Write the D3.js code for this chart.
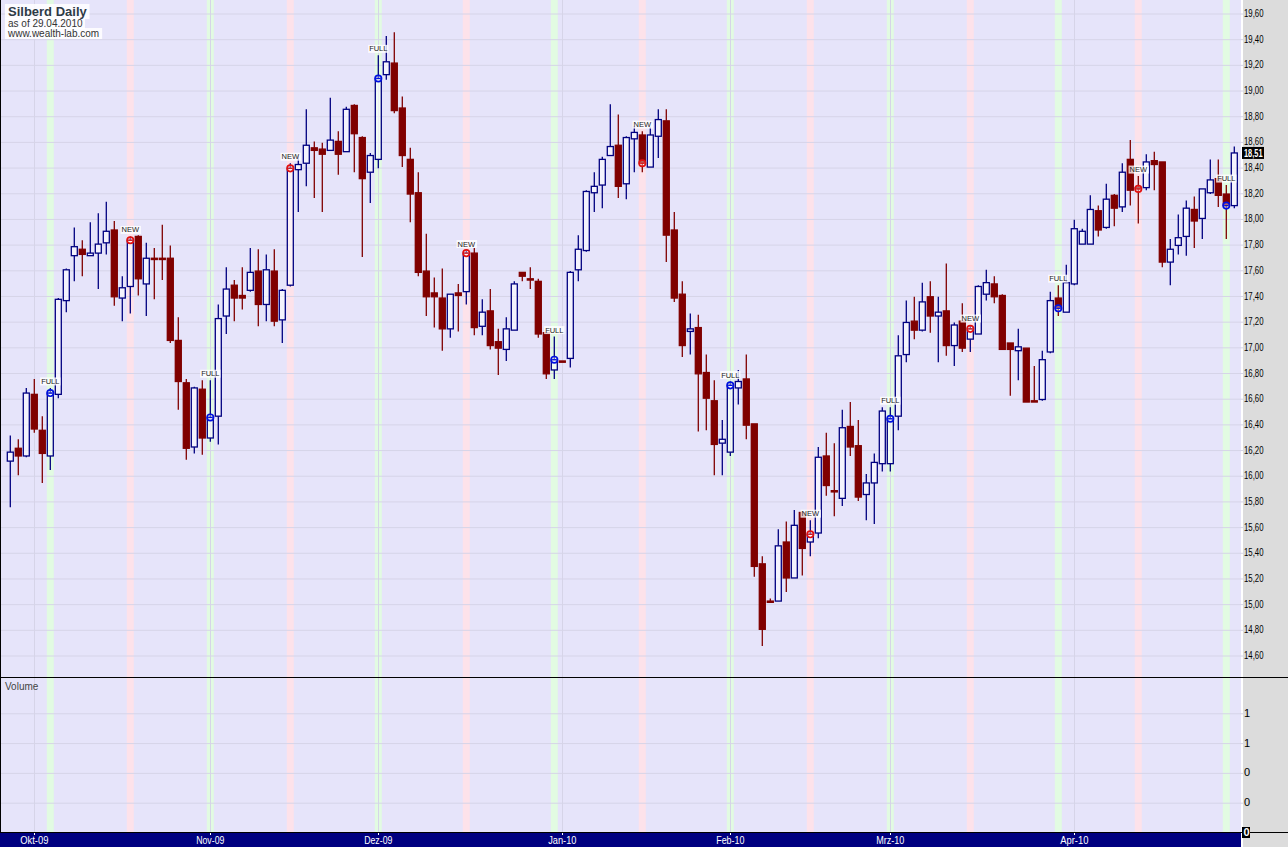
<!DOCTYPE html>
<html>
<head>
<meta charset="utf-8">
<script src="https://cdn.jsdelivr.net/npm/d3@7"></script>
<style>
  html, body { margin: 0; padding: 0; background: #fff; }
  svg { display: block; }
  text { font-family: "Liberation Sans", Arial, sans-serif; }
</style>
</head>
<body>
<svg id="chart" width="1288" height="847"></svg>
<script>
// daily bars, oldest first (one per weekday, 28.09.2009 .. 29.04.2010)
const opens = [
  16.11, 16.21, 16.15, 16.63, 16.35, 16.15, 16.63, 17.36, 17.71, 17.76,
  17.71, 17.73, 17.81, 17.91, 17.38, 17.47, 17.86, 17.49, 17.69, 17.69,
  17.69, 17.05, 16.72, 16.22, 16.67, 16.29, 16.46, 17.24, 17.48, 17.40,
  17.44, 17.59, 17.33, 17.59, 17.21, 17.48, 18.38, 18.43, 18.55, 18.54,
  18.53, 18.60, 18.52, 18.88, 18.63, 18.36, 18.46, 19.12, 19.21, 18.86,
  18.46, 18.20, 17.59, 17.42, 17.38, 17.14, 17.42, 17.43, 17.73, 17.16,
  17.28, 17.04, 16.98, 17.13, 17.58, 17.53, 17.51, 17.11, 16.82, 16.89,
  16.91, 17.60, 17.75, 18.20, 18.26, 18.49, 18.57, 18.27, 18.62, 18.65,
  18.40, 18.64, 18.76, 17.91, 17.41, 17.12, 17.15, 16.80, 16.58, 16.25,
  16.18, 16.68, 16.75, 16.40, 15.31, 15.02, 15.02, 15.48, 15.20, 15.71,
  15.48, 15.55, 16.15, 15.88, 15.82, 16.38, 16.23, 15.85, 15.94, 16.09,
  16.09, 16.46, 16.94, 17.20, 17.13, 17.39, 17.24, 17.28, 17.01, 17.20,
  17.06, 17.10, 17.41, 17.49, 17.40, 17.03, 16.97, 16.99, 16.58, 16.59,
  16.96, 17.38, 17.27, 17.49, 17.80, 17.80, 18.06, 17.93, 18.18, 18.09,
  18.46, 18.24, 18.24, 18.45, 18.44, 17.66, 17.79, 17.86, 18.07, 18.00,
  18.20, 18.31, 18.19, 18.10
];
const highs = [
  16.31, 16.28, 16.68, 16.75, 16.46, 16.68, 17.38, 17.61, 17.93, 17.83,
  17.97, 18.04, 18.13, 17.98, 17.55, 17.86, 17.87, 17.81, 17.77, 17.95,
  17.79, 17.23, 16.75, 16.69, 16.74, 16.74, 17.33, 17.62, 17.52, 17.62,
  17.77, 17.76, 17.72, 17.76, 17.45, 18.43, 18.49, 18.85, 18.60, 18.59,
  18.94, 18.68, 18.87, 18.89, 18.64, 18.51, 19.27, 19.42, 19.45, 18.95,
  18.55, 18.36, 17.88, 17.54, 17.61, 17.41, 17.49, 17.75, 17.77, 17.37,
  17.45, 17.14, 17.23, 17.51, 17.58, 17.62, 17.53, 17.11, 17.08, 16.89,
  17.59, 17.87, 18.22, 18.36, 18.48, 18.89, 18.81, 18.64, 18.72, 18.68,
  18.71, 18.85, 18.85, 18.05, 17.51, 17.26, 17.25, 16.94, 16.74, 16.43,
  16.73, 16.82, 16.94, 16.40, 15.37, 15.04, 15.58, 15.64, 15.73, 15.72,
  15.65, 16.22, 16.33, 16.25, 16.51, 16.57, 16.43, 16.01, 16.17, 16.53,
  16.53, 17.09, 17.36, 17.39, 17.50, 17.51, 17.39, 17.65, 17.19, 17.34,
  17.17, 17.48, 17.60, 17.55, 17.41, 17.03, 17.14, 16.99, 16.85, 16.97,
  17.43, 17.48, 17.64, 17.99, 17.92, 18.18, 18.10, 18.27, 18.19, 18.43,
  18.61, 18.33, 18.50, 18.52, 18.44, 17.84, 18.03, 18.14, 18.17, 18.23,
  18.46, 18.46, 18.26, 18.56
];
const lows = [
  15.75, 16.00, 16.14, 16.33, 15.94, 16.04, 16.60, 17.27, 17.51, 17.55,
  17.71, 17.45, 17.72, 17.32, 17.20, 17.26, 17.40, 17.24, 17.37, 17.52,
  17.03, 16.51, 16.12, 16.17, 16.16, 16.26, 16.24, 17.10, 17.20, 17.29,
  17.43, 17.16, 17.20, 17.16, 17.03, 17.47, 18.05, 18.25, 18.16, 18.05,
  18.53, 18.34, 18.52, 18.36, 17.70, 18.12, 18.39, 19.08, 18.82, 18.40,
  17.97, 17.55, 17.24, 17.15, 16.97, 17.07, 17.12, 17.33, 17.09, 17.09,
  16.98, 16.78, 16.89, 17.13, 17.51, 17.45, 17.07, 16.75, 16.75, 16.88,
  16.84, 17.51, 17.74, 18.05, 18.08, 18.49, 18.16, 18.15, 18.36, 18.36,
  18.40, 18.47, 17.66, 17.35, 16.92, 16.94, 16.34, 16.35, 16.00, 16.00,
  16.15, 16.55, 16.28, 15.21, 14.67, 15.01, 15.02, 15.09, 15.20, 15.22,
  15.37, 15.51, 15.84, 15.68, 15.76, 16.15, 15.80, 15.65, 15.62, 16.03,
  16.03, 16.35, 16.88, 17.06, 17.12, 17.11, 16.88, 16.93, 16.85, 16.96,
  16.96, 17.10, 17.36, 17.34, 16.98, 16.62, 16.74, 16.57, 16.57, 16.58,
  16.95, 17.24, 17.27, 17.48, 17.80, 17.80, 17.86, 17.92, 17.94, 18.05,
  18.10, 17.96, 18.22, 18.22, 17.62, 17.48, 17.72, 17.71, 17.77, 17.84,
  18.19, 18.09, 17.84, 18.08
];
const closes = [
  16.18, 16.15, 16.64, 16.36, 16.17, 16.64, 17.37, 17.60, 17.78, 17.72,
  17.73, 17.80, 17.90, 17.39, 17.46, 17.83, 17.53, 17.69, 17.68, 17.68,
  17.05, 16.73, 16.21, 16.68, 16.29, 16.45, 17.22, 17.45, 17.38, 17.38,
  17.58, 17.33, 17.60, 17.20, 17.44, 18.39, 18.42, 18.57, 18.53, 18.50,
  18.61, 18.50, 18.85, 18.66, 18.31, 18.49, 19.09, 19.22, 18.84, 18.49,
  18.19, 17.58, 17.39, 17.39, 17.14, 17.41, 17.40, 17.73, 17.15, 17.27,
  17.01, 16.99, 17.14, 17.49, 17.55, 17.52, 17.10, 16.79, 16.90, 16.88,
  17.58, 17.76, 18.21, 18.25, 18.46, 18.56, 18.25, 18.63, 18.67, 18.43,
  18.65, 18.77, 17.87, 17.38, 17.01, 17.14, 16.79, 16.60, 16.24, 16.28,
  16.70, 16.73, 16.39, 15.29, 14.80, 15.01, 15.45, 15.20, 15.61, 15.43,
  15.54, 16.14, 15.92, 15.87, 16.37, 16.22, 15.83, 15.94, 16.10, 16.50,
  16.44, 16.93, 17.19, 17.13, 17.35, 17.24, 17.27, 17.01, 17.17, 16.99,
  17.14, 17.47, 17.50, 17.39, 16.98, 16.98, 17.00, 16.57, 16.57, 16.90,
  17.36, 17.30, 17.50, 17.92, 17.90, 18.07, 17.91, 18.15, 18.08, 18.36,
  18.22, 18.23, 18.44, 18.42, 17.66, 17.76, 17.85, 18.08, 17.98, 18.23,
  18.30, 18.18, 18.10, 18.51
];

// bar index of full moon / new moon days
const fullMoonBars = [5, 25, 46, 68, 90, 110, 131, 152];
const newMoonBars = [15, 35, 57, 79, 100, 120, 141];

// first bar of each month and its label
const monthBars = [3, 25, 46, 69, 90, 110, 133];
const monthLabels = ["Okt-09", "Nov-09", "Dez-09", "Jan-10", "Feb-10", "Mrz-10", "Apr-10"];

const priceTicks = [
  14.6, 14.8, 15.0, 15.2, 15.4, 15.6, 15.8, 16.0, 16.2, 16.4, 16.6, 16.8, 17.0,
  17.2, 17.4, 17.6, 17.8, 18.0, 18.2, 18.4, 18.6, 18.8, 19.0, 19.2, 19.4, 19.6
];
const volumeTicks = [0.3, 0.6, 0.9, 1.2];
const volumeTickLabels = ["0", "0", "1", "1"];
const lastVolume = 0;

const titleLines = ["Silberd Daily", "as of 29.04.2010", "www.wealth-lab.com"];

const WIDTH = 1288;
const HEIGHT = 847;
const PLOT_RIGHT = 1241;
const AXIS_LEFT = 1243;
const PANE_SPLIT = 677.5;
const DATE_BAR_TOP = 832;

const BG = "#e6e4fa";
const GRID = "#d6d4e8";
const UP = "#000080";
const DOWN = "#800000";
const FULL_BAND = "#e2fbe2";
const NEW_BAND = "#fde2ea";

const svg = d3.select("#chart");

const x = d3.scaleLinear([0, opens.length - 1], [10.3, 1234.3]);
const y = d3.scaleLinear([14.6, 19.6], [655, 13]);
const yVol = d3.scaleLinear([0, 1.55], [DATE_BAR_TOP, 678]);

const bars = opens.map((open, i) => ({
  i,
  open,
  high: highs[i],
  low: lows[i],
  close: closes[i],
}));

const commaFormat = (d) => d3.format(".2f")(d).replace(".", ",");

// squeeze labels to the narrow look of the original
function squeeze(charWidth) {
  return (sel) => sel.each(function () {
    const s = this.textContent;
    if (s.length > 1) {
      d3.select(this)
        .attr("textLength", s.length * charWidth - (s.includes(",") ? 1.5 : 0))
        .attr("lengthAdjust", "spacingAndGlyphs");
    }
  });
}

function drawBackground() {
  svg.append("rect").attr("width", WIDTH).attr("height", HEIGHT).attr("fill", "#fff");
  svg.append("rect")
    .attr("width", PLOT_RIGHT)
    .attr("height", DATE_BAR_TOP)
    .attr("fill", BG);

  const bands = svg.append("g");
  bands.selectAll(".full").data(fullMoonBars).join("rect")
    .attr("x", (i) => x(i) - 3.5)
    .attr("width", 7)
    .attr("height", DATE_BAR_TOP)
    .attr("fill", FULL_BAND);
  bands.selectAll(".new").data(newMoonBars).join("rect")
    .attr("x", (i) => x(i) - 3.5)
    .attr("width", 7)
    .attr("height", DATE_BAR_TOP)
    .attr("fill", NEW_BAND);

  svg.append("g").selectAll("line").data(monthBars).join("line")
    .attr("x1", (i) => Math.round(x(i)) + 0.5)
    .attr("x2", (i) => Math.round(x(i)) + 0.5)
    .attr("y1", 0)
    .attr("y2", DATE_BAR_TOP)
    .attr("stroke", GRID);

  // horizontal grid, drawn as long ticks
  const priceGrid = d3.axisRight(y).tickValues(priceTicks).tickSize(-AXIS_LEFT).tickFormat("");
  svg.append("g")
    .attr("transform", `translate(${AXIS_LEFT},0.5)`)
    .call(priceGrid)
    .call((g) => g.select(".domain").remove())
    .call((g) => g.selectAll("line").attr("stroke", GRID));

  const volumeGrid = d3.axisRight(yVol).tickValues(volumeTicks).tickSize(-AXIS_LEFT).tickFormat("");
  svg.append("g")
    .attr("transform", `translate(${AXIS_LEFT},0.5)`)
    .call(volumeGrid)
    .call((g) => g.select(".domain").remove())
    .call((g) => g.selectAll("line").attr("stroke", GRID));
}

function drawCandles() {
  const g = svg.append("g")
    .selectAll("g")
    .data(bars)
    .join("g")
    .attr("stroke", (d) => (d.close >= d.open ? UP : DOWN));

  g.append("line")
    .attr("x1", (d) => x(d.i))
    .attr("x2", (d) => x(d.i))
    .attr("y1", (d) => y(d.high))
    .attr("y2", (d) => y(Math.max(d.open, d.close)))
    .attr("stroke-width", 1.3);

  g.append("line")
    .attr("x1", (d) => x(d.i))
    .attr("x2", (d) => x(d.i))
    .attr("y1", (d) => y(Math.min(d.open, d.close)))
    .attr("y2", (d) => y(d.low))
    .attr("stroke-width", 1.3);

  g.append("rect")
    .attr("x", (d) => x(d.i) - 3)
    .attr("width", 6)
    .attr("y", (d) => y(Math.max(d.open, d.close)))
    .attr("height", (d) => Math.max(0.8, y(Math.min(d.open, d.close)) - y(Math.max(d.open, d.close))))
    .attr("fill", (d) => (d.close >= d.open ? "rgba(255,255,255,0.55)" : DOWN))
    .attr("stroke-width", 1.3);
}

function drawMoonMarkers(indices, color, label) {
  const g = svg.append("g")
    .selectAll("g")
    .data(indices.map((i) => bars[i]))
    .join("g");

  const cy = (d) => y(d.close);
  g.append("circle")
    .attr("cx", (d) => x(d.i))
    .attr("cy", cy)
    .attr("r", 3.2)
    .attr("fill", "rgba(255,255,255,0.4)")
    .attr("stroke", color)
    .attr("stroke-width", 1.7);
  g.append("line")
    .attr("x1", (d) => x(d.i) - 2)
    .attr("x2", (d) => x(d.i) + 2)
    .attr("y1", cy)
    .attr("y2", cy)
    .attr("stroke", color)
    .attr("stroke-width", 1.2);

  const text = g.append("text")
    .attr("x", (d) => x(d.i))
    .attr("y", (d) => y(d.high) - 4)
    .attr("text-anchor", "middle")
    .attr("font-size", 7.5)
    .attr("fill", "#222")
    .text(label);

  text.each(function () {
    const b = this.getBBox();
    d3.select(this.parentNode).insert("rect", "text")
      .attr("x", b.x - 1)
      .attr("y", b.y + 0.5)
      .attr("width", b.width + 2)
      .attr("height", b.height - 1)
      .attr("fill", "rgba(255,255,255,0.8)");
  });
}

function drawAxes() {
  svg.append("rect")
    .attr("x", AXIS_LEFT)
    .attr("width", WIDTH - AXIS_LEFT)
    .attr("height", HEIGHT)
    .attr("fill", "#dcdcdc");

  const priceAxis = d3.axisRight(y).tickValues(priceTicks).tickSize(0).tickPadding(1).tickFormat(commaFormat);
  svg.append("g")
    .attr("transform", `translate(${AXIS_LEFT},0)`)
    .call(priceAxis)
    .call((g) => g.select(".domain").remove())
    .call((g) => g.selectAll("text")
      .attr("font-size", 11)
      .attr("fill", "#000")
      .attr("font-family", null)
      .call(squeeze(4.2)));

  const volumeAxis = d3.axisRight(yVol).tickValues(volumeTicks).tickSize(0).tickPadding(1)
    .tickFormat((d, k) => volumeTickLabels[k]);
  svg.append("g")
    .attr("transform", `translate(${AXIS_LEFT},0)`)
    .call(volumeAxis)
    .call((g) => g.select(".domain").remove())
    .call((g) => g.selectAll("text").attr("font-size", 11).attr("fill", "#000").attr("font-family", null));

  // pane separators
  svg.append("line")
    .attr("x1", 0).attr("x2", WIDTH)
    .attr("y1", PANE_SPLIT).attr("y2", PANE_SPLIT)
    .attr("stroke", "#000");
  svg.append("line")
    .attr("x1", 0.5).attr("x2", 0.5)
    .attr("y1", 0).attr("y2", DATE_BAR_TOP)
    .attr("stroke", "#000");

  svg.append("text")
    .attr("x", 5)
    .attr("y", 690)
    .attr("font-size", 10)
    .attr("fill", "#444")
    .text("Volume");

  // date bar
  svg.append("rect")
    .attr("y", DATE_BAR_TOP)
    .attr("width", PLOT_RIGHT)
    .attr("height", HEIGHT - DATE_BAR_TOP)
    .attr("fill", "#000080");
  svg.append("line")
    .attr("x1", 0).attr("x2", WIDTH)
    .attr("y1", DATE_BAR_TOP + 0.5).attr("y2", DATE_BAR_TOP + 0.5)
    .attr("stroke", "#000");

  const months = svg.append("g");
  months.selectAll("line").data(monthBars).join("line")
    .attr("x1", (i) => Math.round(x(i)) + 0.5)
    .attr("x2", (i) => Math.round(x(i)) + 0.5)
    .attr("y1", DATE_BAR_TOP + 1)
    .attr("y2", DATE_BAR_TOP + 3)
    .attr("stroke", "#fff");
  months.selectAll("text").data(monthBars).join("text")
    .attr("x", (i) => x(i))
    .attr("y", HEIGHT - 3)
    .attr("text-anchor", "middle")
    .attr("font-size", 11.5)
    .attr("fill", "#fff")
    .text((i, k) => monthLabels[k])
    .call(squeeze(4.7));

  // last values
  const lastClose = closes[closes.length - 1];
  const priceTag = svg.append("g");
  priceTag.append("rect")
    .attr("x", AXIS_LEFT - 1)
    .attr("y", y(lastClose) - 6)
    .attr("width", 22)
    .attr("height", 12)
    .attr("fill", "#000");
  priceTag.append("text")
    .attr("x", AXIS_LEFT + 1)
    .attr("y", y(lastClose) + 4)
    .attr("font-size", 11)
    .attr("font-weight", "bold")
    .attr("fill", "#fff")
    .text(commaFormat(lastClose))
    .call(squeeze(4.0));

  const volTag = svg.append("g");
  volTag.append("rect")
    .attr("x", AXIS_LEFT - 1)
    .attr("y", yVol(lastVolume) - 5)
    .attr("width", 8)
    .attr("height", 11)
    .attr("fill", "#000");
  volTag.append("text")
    .attr("x", AXIS_LEFT + 0.5)
    .attr("y", yVol(lastVolume) + 4)
    .attr("font-size", 11)
    .attr("font-weight", "bold")
    .attr("fill", "#fff")
    .text(String(lastVolume));
}

function drawTitle() {
  const sizes = [13, 10, 10];
  const baselines = [16, 27, 37];
  const g = svg.append("g");
  titleLines.forEach((line, k) => {
    const t = g.append("text")
      .attr("x", 8)
      .attr("y", baselines[k])
      .attr("font-size", sizes[k])
      .attr("font-weight", k === 0 ? "bold" : "normal")
      .attr("fill", k === 0 ? "#2e3a46" : "#333")
      .text(line);
    const b = t.node().getBBox();
    g.insert("rect", "text")
      .attr("x", 5)
      .attr("y", b.y)
      .attr("width", b.width + 5)
      .attr("height", b.height)
      .attr("fill", "rgba(255,255,255,0.85)");
  });
}

drawBackground();
drawCandles();
drawMoonMarkers(fullMoonBars, "#0010e0", "FULL");
drawMoonMarkers(newMoonBars, "#e01010", "NEW");
drawAxes();
drawTitle();
</script>
</body>
</html>
